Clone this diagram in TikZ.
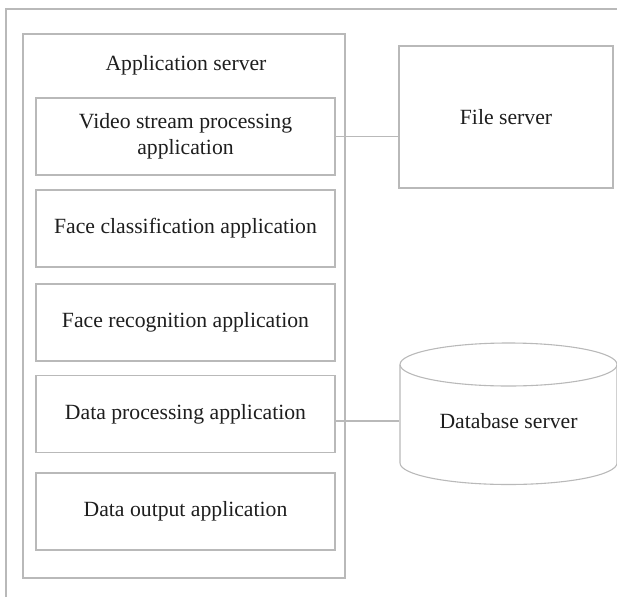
\documentclass[tikz,border=0pt]{standalone}
\usepackage{fontspec}
\setmainfont{Liberation Serif}
\usepackage{tikz}
\usetikzlibrary{calc}
\definecolor{framegray}{RGB}{185,185,185}
\definecolor{textdark}{RGB}{30,30,30}

\begin{document}
\begin{tikzpicture}[x=1pt,y=-1pt,line width=1.1pt,-]
                \useasboundingbox (0,0) rectangle (617,597);
                \tikzstyle{app}=[rectangle,draw=framegray,fill=white,text=textdark,align=center,minimum width=299pt,minimum height=77pt,inner sep=0pt,outer sep=0pt]
                \tikzstyle{lbl}=[text=textdark,align=center,inner sep=0pt]
                \fontsize{21.7}{26}\selectfont

                % outer frame
                \draw[framegray] (6,597) -- (6,9) -- (617,9);

                \node[rectangle,draw=framegray,minimum width=322pt,minimum height=544pt,inner sep=0pt] (AppServer) at (184,306) {};
                \node[lbl] (AppTitle) at (186,65.5) {Application server};

                \foreach \name/\y/\txt in {video/136.5/{Video stream processing\\application}, classify/228.5/{Face classification application}, recog/322.5/{Face recognition application}, dataproc/414/{Data processing application}, output/511.5/{Data output application}}
                        \node[app] (A-\name) at (185.5,\y) {\txt};

                \node[app,minimum width=214pt,minimum height=142pt] (FileServer) at (506,117) {File server};

                % database cylinder
                \node[lbl,minimum width=217pt] (DB) at (508.5,421) {Database server};
                \draw[framegray] ($(DB.center)+(0,-56.5)$) ellipse [x radius=108.5, y radius=21.5];
                \draw[framegray] ($(DB.center)+(-108.5,-56.5)$) -- ++(0,98.5) arc[start angle=180, end angle=0, x radius=108.5, y radius=21.5] -- ++(0,-98.5);

                    \draw[framegray] (A-video.east) -- (A-video.east -| FileServer.west);
                    \draw[framegray] (DB.west -| A-dataproc.east) -- (DB.west);
            \end{tikzpicture}
\end{document}
